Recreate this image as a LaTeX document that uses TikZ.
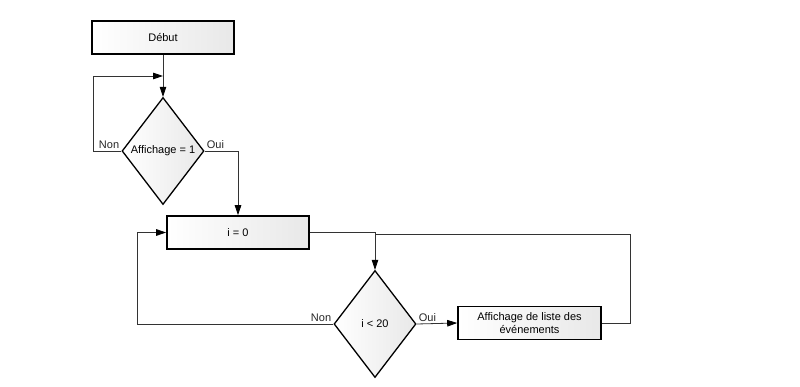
\documentclass[tikz,border=0pt]{standalone}
\usepackage{fontspec}
\setmainfont{Liberation Sans}
\usetikzlibrary{shapes.geometric,arrows.meta}
\begin{document}
\begin{tikzpicture}[x=1pt,y=-1pt,
 txt/.style={font=\fontsize{11}{13}\selectfont},
 box/.style={txt,draw=black,line width=1.6pt,left color=white,right color=black!9,minimum width=142pt,minimum height=33pt,inner sep=0pt},
 dec/.style={txt,diamond,draw=black,line width=1.3pt,left color=white,right color=black!9,minimum width=82pt,minimum height=107pt,inner sep=0pt,aspect=0.77},
 conn/.style={draw=black!80,line width=0.8pt},
 arr/.style={conn,-{Triangle[length=10pt,width=6.5pt,color=black]}},
 lbl/.style={txt,text=black!85,inner sep=1pt}
]
\useasboundingbox (0,0) rectangle (800,387);
\fill[white] (0,0) rectangle (800,387);
\node[box] (debut) at (163,37.5) {Début};
\node[dec] (d1) at (163,151) {Affichage = 1};
\node[box] (i0) at (238,232.5) {i = 0};
\node[dec] (d2) at (375,324) {i < 20};
\node[box,minimum width=143pt,align=center] (aff) at (529.5,323) {Affichage de liste des\\événements};
\coordinate (c1) at (93,76);
\coordinate (c2) at (137,324);
\coordinate (c3) at (630,234);
\draw[arr] (debut.south) -- (d1.north);
\draw[arr] (d1.west) -| (c1) -- (c1 -| debut.south);
\draw[arr] (d1.east) -| (i0.north);
\draw[arr] (i0.east) -| (d2.north);
\draw[arr] (d2.west) -- (c2) |- (i0.west);
\draw[arr] (d2.east) -- (aff.west);
\draw[conn] (aff.east) -| (c3) -- (c3 -| d2.north);
\node[lbl,anchor=south east] (n1) at ([xshift=-1pt,yshift=1pt]d1.west) {Non};
\node[lbl,anchor=south west] (o1) at ([xshift=1pt,yshift=1pt]d1.east) {Oui};
\node[lbl,anchor=south east] (n2) at ([xshift=-1pt,yshift=1pt]d2.west) {Non};
\node[lbl,anchor=south west] (o2) at ([xshift=1pt,yshift=1pt]d2.east) {Oui};
\end{tikzpicture}
\end{document}
